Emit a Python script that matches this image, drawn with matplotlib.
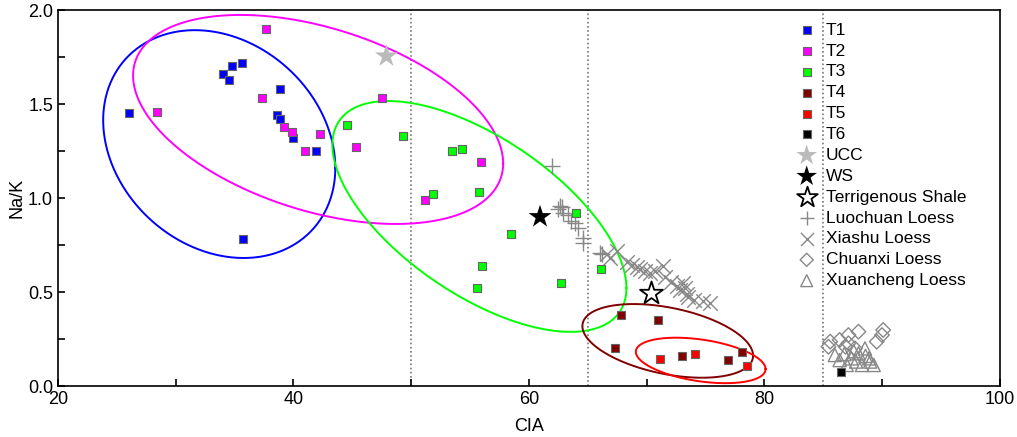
import numpy as np
import matplotlib
matplotlib.use('Agg')
import matplotlib.pyplot as plt
from matplotlib.ticker import MultipleLocator

plt.rcParams['font.family'] = ['Liberation Sans', 'DejaVu Sans']

# sample groups (CIA, Na/K)
t1_cia = [26.0, 34.0, 34.5, 34.8, 35.6, 35.7, 38.6, 38.9, 38.9, 40.0, 41.9]
t1_nak = [1.45, 1.66, 1.63, 1.70, 1.72, 0.78, 1.44, 1.58, 1.42, 1.32, 1.25]
t2_cia = [28.4, 37.7, 37.3, 39.2, 39.85, 42.3, 41.0, 47.55, 45.3, 55.9, 51.15]
t2_nak = [1.46, 1.90, 1.53, 1.38, 1.35, 1.34, 1.25, 1.53, 1.27, 1.19, 0.99]
t3_cia = [44.55, 49.3, 53.5, 54.35, 55.8, 51.85, 64.0, 58.5, 56.05, 55.6, 62.75, 66.1]
t3_nak = [1.39, 1.33, 1.25, 1.26, 1.03, 1.02, 0.92, 0.81, 0.64, 0.52, 0.55, 0.62]
t4_cia = [67.8, 71.0, 67.3, 73.0, 76.9, 78.1]
t4_nak = [0.38, 0.35, 0.20, 0.16, 0.14, 0.18]
t5_cia = [71.1, 74.1, 78.5]
t5_nak = [0.145, 0.17, 0.105]
t6_cia = [86.55]
t6_nak = [0.076]

ucc = (47.9, 1.755)
ws = (60.95, 0.90)
shale = (70.4, 0.493)

luochuan_cia = [61.95, 62.65, 62.8, 62.5, 62.9, 63.35, 63.6, 63.9, 64.2, 64.6, 64.6, 66.05, 66.2]
luochuan_nak = [1.17, 0.96, 0.95, 0.94, 0.92, 0.91, 0.88, 0.865, 0.84, 0.79, 0.76, 0.71, 0.70]
xiashu_cia = [66.6, 67.5, 66.9, 68.3, 68.75, 69.2, 69.45, 69.9, 70.3, 70.7, 71.4, 71.55,
              72.1, 72.55, 72.8, 73.3, 73.4, 73.1, 73.55, 74.0, 74.8, 75.4]
xiashu_nak = [0.70, 0.72, 0.68, 0.66, 0.645, 0.635, 0.62, 0.61, 0.60, 0.61, 0.64, 0.58,
              0.555, 0.53, 0.51, 0.52, 0.49, 0.55, 0.475, 0.46, 0.45, 0.44]
chuanxi_cia = [85.6, 85.45, 86.4, 87.15, 88.0, 87.15, 86.9, 90.1, 90.0, 89.55, 87.7]
chuanxi_nak = [0.236, 0.209, 0.245, 0.271, 0.289, 0.227, 0.209, 0.298, 0.271, 0.236, 0.20]
xuancheng_cia = [86.4, 87.4, 88.0, 88.55, 88.3, 89.3, 88.9, 87.0, 86.0, 87.8, 88.6, 89.0, 86.8, 87.6]
xuancheng_nak = [0.138, 0.147, 0.174, 0.20, 0.112, 0.112, 0.147, 0.112, 0.165, 0.13, 0.16, 0.13, 0.17, 0.185]

# confidence-style ellipses: centre, half extents, coupling, colour
ell_cx = [33.7, 42.1, 55.8, 71.8, 74.6]
ell_cy = [1.287, 1.418, 0.902, 0.240, 0.136]
ell_rx = [9.86, 15.72, 12.49, 7.25, 5.51]
ell_ry = [0.606, 0.556, 0.614, 0.196, 0.121]
ell_rho = [-0.21, -0.42, -0.62, -0.40, -0.38]
ell_col = ['#0000ff', '#ff00ff', '#00ff00', '#800000', '#ff0000']

boundaries = [50, 65, 85]

fig = plt.figure(figsize=(10.17, 4.37), dpi=100)
ax = fig.add_axes([0.057, 0.1167, 0.926, 0.8603])

for b in boundaries:
    ax.axvline(b, color='#777777', ls=(0, (1, 1.5)), lw=1.2, zorder=1)

t = np.linspace(0, 2 * np.pi, 400)
for cx, cy, rx, ry, rho, c in zip(ell_cx, ell_cy, ell_rx, ell_ry, ell_rho, ell_col):
    phi = np.arccos(rho)
    ax.plot(cx + rx * np.cos(t), cy + ry * np.cos(t - phi), color=c, lw=1.4, zorder=2)

sq = dict(marker='s', s=36, edgecolors='#666666', linewidths=0.8, zorder=4)
ax.scatter(t1_cia, t1_nak, c='#0000ff', label='T1', **sq)
ax.scatter(t2_cia, t2_nak, c='#ff00ff', label='T2', **sq)
ax.scatter(t3_cia, t3_nak, c='#00ff00', label='T3', **sq)
ax.scatter(t4_cia, t4_nak, c='#800000', label='T4', **sq)
ax.scatter(t5_cia, t5_nak, c='#ff0000', label='T5', **sq)
ax.scatter(t6_cia, t6_nak, c='#000000', label='T6', **sq)

ax.scatter([ucc[0]], [ucc[1]], marker='*', s=300, c='#bbbbbb', edgecolors='none', label='UCC', zorder=5)
ax.scatter([ws[0]], [ws[1]], marker='*', s=300, c='black', edgecolors='none', label='WS', zorder=5)
ax.scatter([shale[0]], [shale[1]], marker='*', s=300, facecolors='white', edgecolors='black',
           linewidths=1.3, label='Terrigenous Shale', zorder=5)

ax.scatter(luochuan_cia, luochuan_nak, marker='+', s=130, c='#888888', linewidths=1.0,
           label='Luochuan Loess', zorder=3)
ax.scatter(xiashu_cia, xiashu_nak, marker='x', s=110, c='#888888', linewidths=1.0,
           label='Xiashu Loess', zorder=3)
ax.scatter(chuanxi_cia, chuanxi_nak, marker='D', s=55, facecolors='none', edgecolors='#888888',
           linewidths=1.0, label='Chuanxi Loess', zorder=3)
ax.scatter(xuancheng_cia, xuancheng_nak, marker='^', s=90, facecolors='none', edgecolors='#888888',
           linewidths=1.0, label='Xuancheng Loess', zorder=3)

ax.set_xlim(20, 100)
ax.set_ylim(0, 2.0)
ax.xaxis.set_major_locator(MultipleLocator(20))
ax.xaxis.set_minor_locator(MultipleLocator(10))
ax.yaxis.set_major_locator(MultipleLocator(0.5))
ax.yaxis.set_minor_locator(MultipleLocator(0.25))
ax.yaxis.set_major_formatter(matplotlib.ticker.FormatStrFormatter('%.1f'))
ax.tick_params(which='both', direction='in', length=5, width=1.2, labelsize=13)
for sp in ax.spines.values():
    sp.set_linewidth(1.2)
ax.set_xlabel('CIA', fontsize=13, labelpad=7)
ax.set_ylabel('Na/K', fontsize=13, labelpad=2)

ax.legend(loc='upper left', bbox_to_anchor=(0.772, 0.99), frameon=False, fontsize=12.5,
          handletextpad=0.35, labelspacing=0.33, borderpad=0, handlelength=1.5,
          scatterpoints=1, markerscale=0.9)

fig.savefig('out.png', dpi=100)
